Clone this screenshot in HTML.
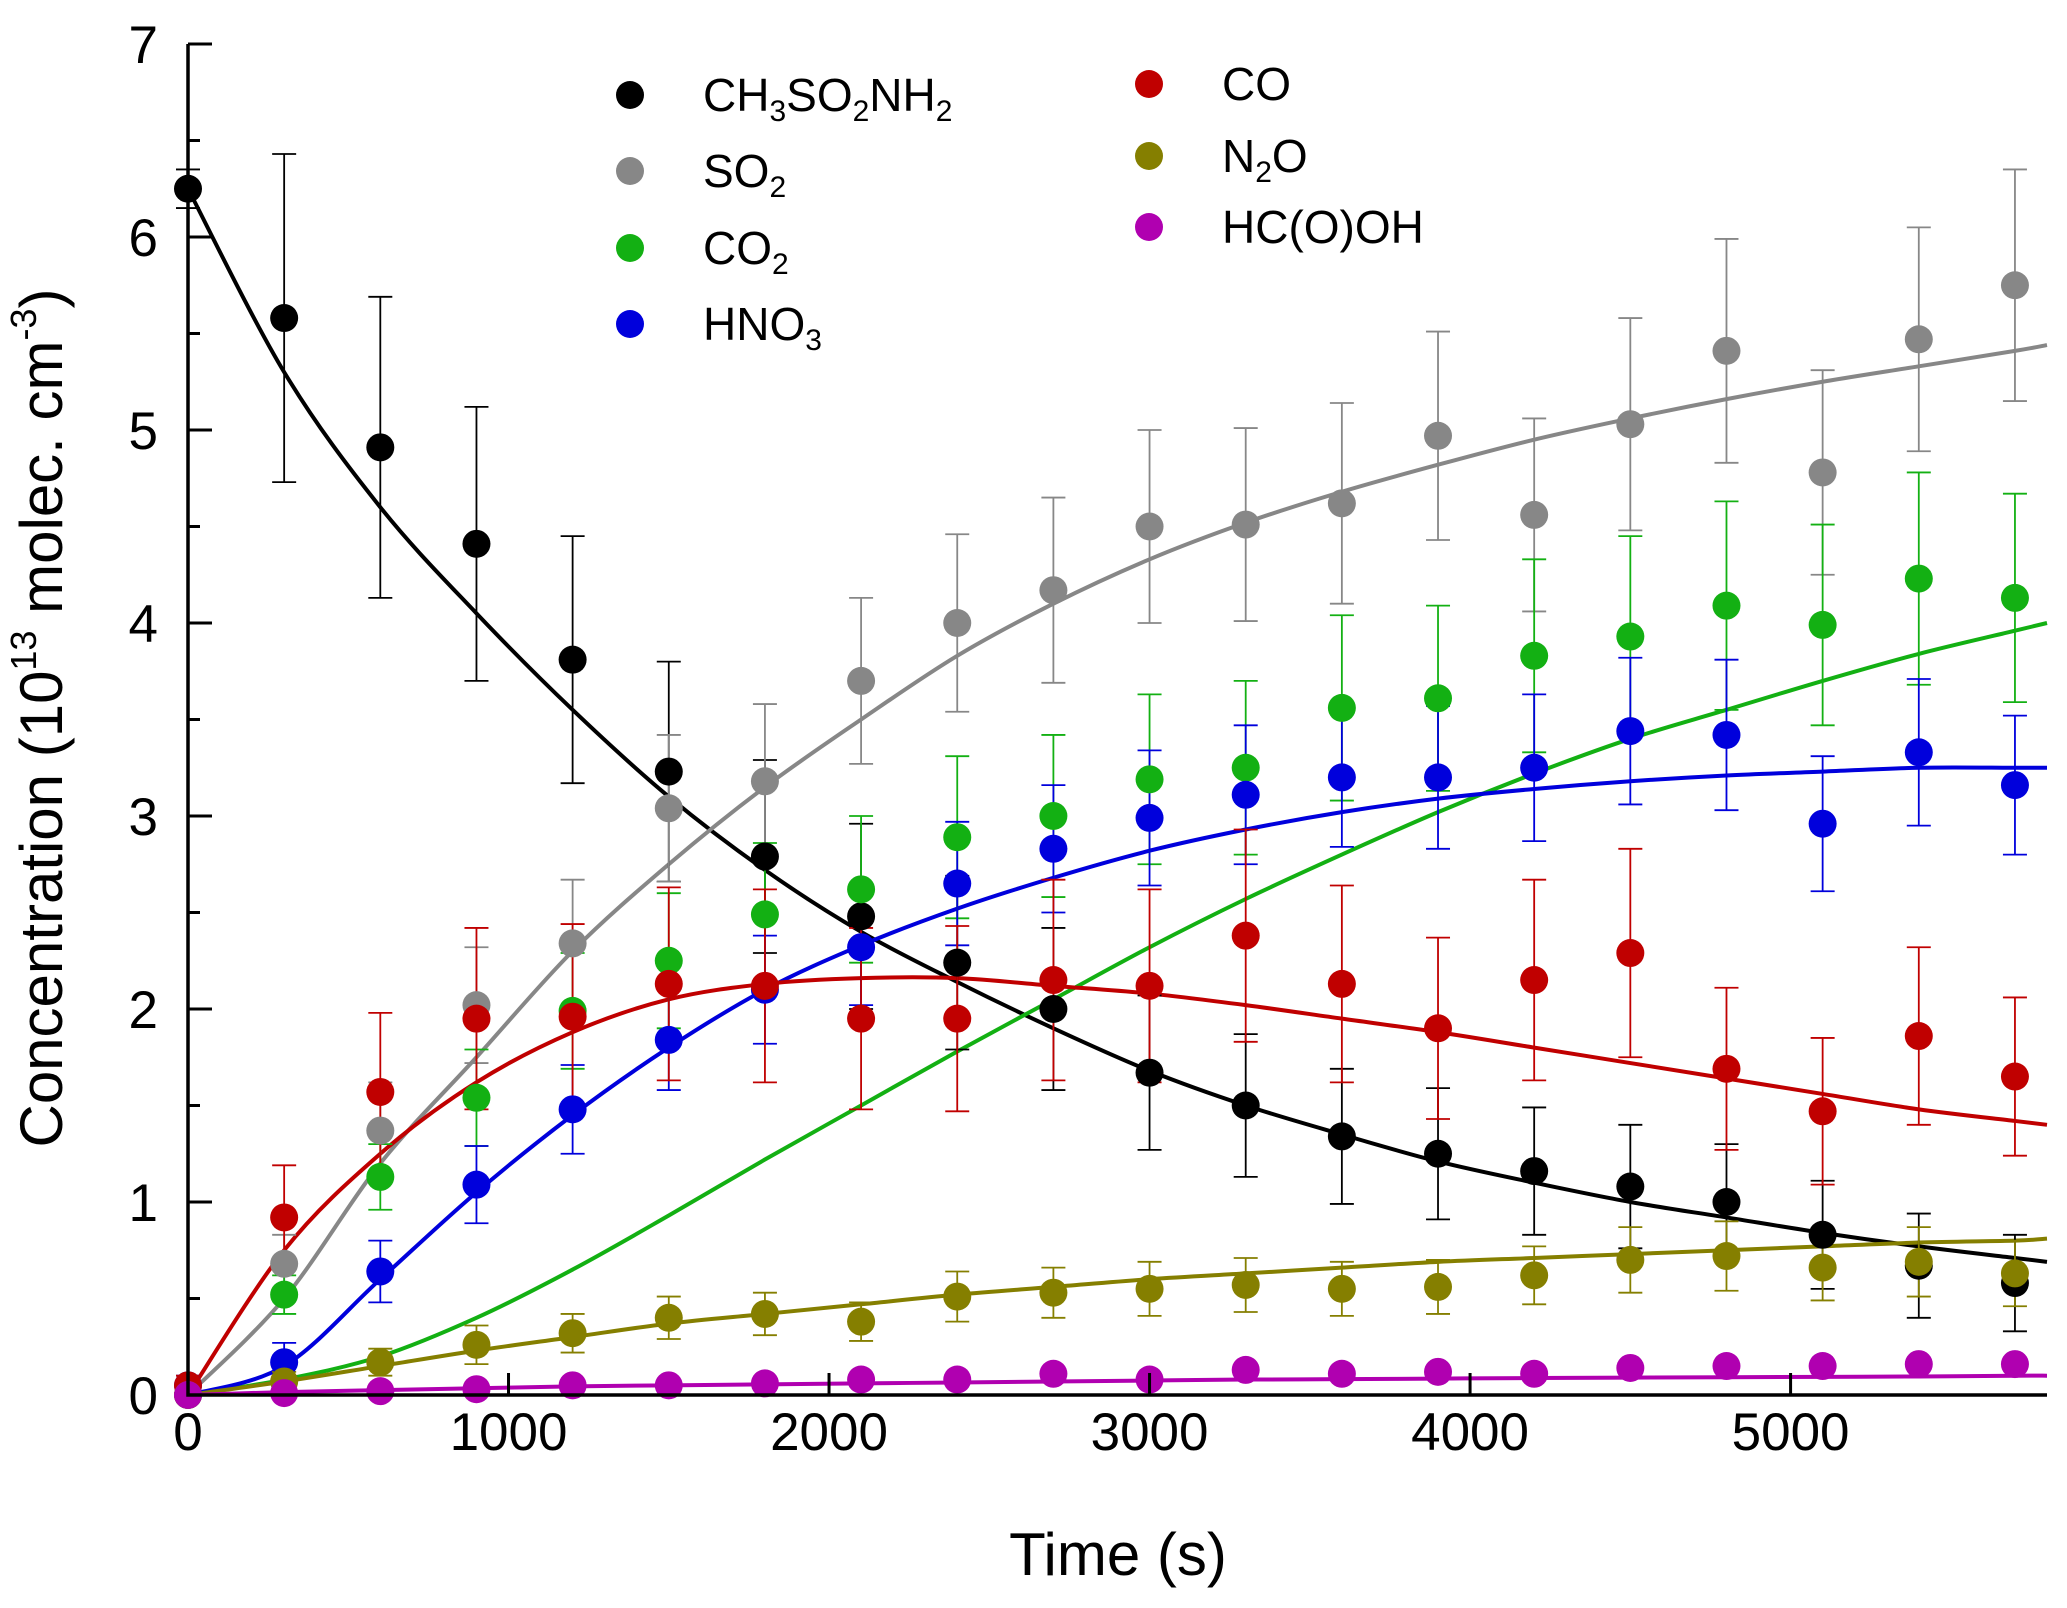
<!DOCTYPE html>
<html><head><meta charset="utf-8"><style>
html,body{margin:0;padding:0;background:#fff}
svg{display:block;font-family:"Liberation Sans",Arial,sans-serif}
</style></head><body>
<svg id="chart" width="2067" height="1608" viewBox="0 0 2067 1608" xmlns="http://www.w3.org/2000/svg">
<g id="curves"></g>
<g id="errs"></g>
<g id="pts"></g>
<g id="axes"></g>
<g id="legend"></g>
<text x="1118" y="1575" font-size="60" text-anchor="middle">Time (s)</text>
<text transform="translate(62,718) rotate(-90)" font-size="60" text-anchor="middle">Concentration (10<tspan font-size="36" dy="-26">13</tspan><tspan dy="26"> molec. cm</tspan><tspan font-size="36" dy="-26">-3</tspan><tspan dy="26">)</tspan></text>
</svg>
<script>
const times=[0,300,600,900,1200,1500,1800,2100,2400,2700,3000,3300,3600,3900,4200,4500,4800,5100,5400,5700];
const curveTimes=[0,300,600,900,1200,1500,1800,2100,2400,2700,3000,3300,3600,3900,4200,4500,4800,5100,5400,5700,5800];
const xTicks=[0,1000,2000,3000,4000,5000];
const yTicks=[0,1,2,3,4,5,6,7];
const seriesNames=["CH3SO2NH2","SO2","CO2","HNO3","CO","N2O","HC(O)OH"];
const seriesColors=["#000000","#878787","#13b013","#0000dc","#c00000","#857f00","#b000b0"];
const valsMSA=[6.25,5.58,4.91,4.41,3.81,3.23,2.79,2.48,2.24,2.00,1.67,1.50,1.34,1.25,1.16,1.08,1.00,0.83,0.67,0.58];
const errMSA=[0.1,0.85,0.78,0.71,0.64,0.57,0.5,0.48,0.45,0.42,0.4,0.37,0.35,0.34,0.33,0.32,0.3,0.28,0.27,0.25];
const valsSO2=[0,0.68,1.37,2.02,2.34,3.04,3.18,3.70,4.00,4.17,4.50,4.51,4.62,4.97,4.56,5.03,5.41,4.78,5.47,5.75];
const errSO2=[0.05,0.15,0.25,0.3,0.33,0.38,0.4,0.43,0.46,0.48,0.5,0.5,0.52,0.54,0.5,0.55,0.58,0.53,0.58,0.6];
const valsCO2=[0,0.52,1.13,1.54,1.99,2.25,2.49,2.62,2.89,3.00,3.19,3.25,3.56,3.61,3.83,3.93,4.09,3.99,4.23,4.13];
const errCO2=[0.05,0.1,0.17,0.25,0.3,0.35,0.37,0.38,0.42,0.42,0.44,0.45,0.48,0.48,0.5,0.52,0.54,0.52,0.55,0.54];
const valsHNO3=[0.05,0.17,0.64,1.09,1.48,1.84,2.10,2.32,2.65,2.83,2.99,3.11,3.20,3.20,3.25,3.44,3.42,2.96,3.33,3.16];
const errHNO3=[0.05,0.1,0.16,0.2,0.23,0.26,0.28,0.3,0.32,0.33,0.35,0.36,0.36,0.37,0.38,0.38,0.39,0.35,0.38,0.36];
const valsCO=[0.05,0.92,1.57,1.95,1.96,2.13,2.12,1.95,1.95,2.15,2.12,2.38,2.13,1.90,2.15,2.29,1.69,1.47,1.86,1.65];
const errCO=[0.05,0.27,0.41,0.47,0.48,0.5,0.5,0.47,0.48,0.52,0.5,0.55,0.51,0.47,0.52,0.54,0.42,0.38,0.46,0.41];
const valsN2O=[0,0.07,0.17,0.26,0.32,0.40,0.42,0.38,0.51,0.53,0.55,0.57,0.55,0.56,0.62,0.70,0.72,0.66,0.69,0.63];
const errN2O=[0.02,0.05,0.07,0.1,0.1,0.11,0.11,0.1,0.13,0.13,0.14,0.14,0.14,0.14,0.15,0.17,0.18,0.17,0.18,0.17];
const valsHCOOH=[0,0.01,0.02,0.03,0.05,0.05,0.06,0.08,0.08,0.11,0.08,0.13,0.11,0.12,0.11,0.14,0.15,0.15,0.16,0.16];
const errHCOOH=[0,0,0,0,0,0,0,0,0,0,0,0,0,0,0,0,0,0,0,0];
const fitMSA=[6.25,5.3,4.6,4.05,3.55,3.1,2.72,2.4,2.14,1.9,1.68,1.5,1.35,1.21,1.1,1.0,0.92,0.84,0.77,0.71,0.69];
const fitSO2=[0,0.5,1.2,1.75,2.3,2.75,3.15,3.5,3.83,4.1,4.33,4.52,4.68,4.82,4.95,5.06,5.16,5.25,5.33,5.41,5.44];
const fitCO2=[0,0.08,0.2,0.4,0.65,0.93,1.22,1.5,1.78,2.05,2.32,2.57,2.8,3.02,3.22,3.4,3.55,3.7,3.84,3.96,4.0];
const fitHNO3=[0,0.15,0.6,1.05,1.45,1.8,2.1,2.33,2.52,2.68,2.82,2.93,3.02,3.09,3.14,3.18,3.21,3.23,3.25,3.25,3.25];
const fitCO=[0,0.75,1.25,1.62,1.88,2.05,2.13,2.16,2.16,2.12,2.08,2.02,1.95,1.88,1.8,1.72,1.64,1.56,1.48,1.42,1.40];
const fitN2O=[0,0.07,0.15,0.23,0.3,0.37,0.42,0.47,0.52,0.56,0.6,0.63,0.66,0.69,0.71,0.73,0.75,0.77,0.79,0.8,0.81];
const fitHCOOH=[0,0.015,0.025,0.035,0.045,0.05,0.055,0.06,0.065,0.07,0.075,0.08,0.082,0.085,0.088,0.09,0.092,0.094,0.096,0.1,0.1];

const NS="http://www.w3.org/2000/svg";
const X0=188,X1=2047,Y0=1395,Y7=44,XMAX=5800,YMAX=7;
function sx(t){return X0+(X1-X0)*t/XMAX;}
function sy(v){return Y0-(Y0-Y7)*v/YMAX;}
function mk(tag,parent){const e=document.createElementNS(NS,tag);parent.appendChild(e);return e;}

const vals=[valsMSA,valsSO2,valsCO2,valsHNO3,valsCO,valsN2O,valsHCOOH];
const errs=[errMSA,errSO2,errCO2,errHNO3,errCO,errN2O,errHCOOH];
const fits=[fitMSA,fitSO2,fitCO2,fitHNO3,fitCO,fitN2O,fitHCOOH];
const gC=document.getElementById('curves'),gE=document.getElementById('errs'),gP=document.getElementById('pts'),gA=document.getElementById('axes'),gL=document.getElementById('legend');

fits.forEach((f,s)=>{
  const P=curveTimes.map((t,i)=>[sx(t),sy(f[i])]);
  let d='M'+P[0][0]+','+P[0][1];
  for(let i=0;i<P.length-1;i++){
    const p0=P[Math.max(0,i-1)],p1=P[i],p2=P[i+1],p3=P[Math.min(P.length-1,i+2)];
    const c1=[p1[0]+(p2[0]-p0[0])/6,p1[1]+(p2[1]-p0[1])/6],c2=[p2[0]-(p3[0]-p1[0])/6,p2[1]-(p3[1]-p1[1])/6];
    d+=' C'+c1[0]+','+c1[1]+' '+c2[0]+','+c2[1]+' '+p2[0]+','+p2[1];
  }
  const path=mk('path',gC);
  
  
  path.setAttribute('d',d);path.setAttribute('fill','none');path.setAttribute('stroke',seriesColors[s]);path.setAttribute('stroke-width','4');
});

vals.forEach((v,s)=>{
  times.forEach((t,i)=>{
    const e=errs[s][i];
    if(e>0.03){
      const x=sx(t),ya=sy(v[i]+e),yb=sy(Math.max(0,v[i]-e));
      const g=mk('path',gE);
      
      
      g.setAttribute('d',`M${x},${ya}V${yb}M${x-12},${ya}H${x+12}M${x-12},${yb}H${x+12}`);
      g.setAttribute('stroke',seriesColors[s]);g.setAttribute('stroke-width','1.8');g.setAttribute('fill','none');
    }
    const c=mk('circle',gP);
    
    
    c.setAttribute('cx',sx(t));c.setAttribute('cy',sy(v[i]));c.setAttribute('r','14');c.setAttribute('fill',seriesColors[s]);
  });
});

const ax=mk('path',gA);


ax.setAttribute('d',`M${X0},${Y7}V${Y0}H${X1}`);ax.setAttribute('stroke','#000');ax.setAttribute('stroke-width','3.5');ax.setAttribute('fill','none');
yTicks.forEach(v=>{
  const l=mk('path',gA);
  
  
  l.setAttribute('d',`M${X0},${sy(v)}H${X0+24}`+(v<7?`M${X0},${sy(v+0.5)}H${X0+12}`:''));l.setAttribute('stroke','#000');l.setAttribute('stroke-width','3');
  const tx=mk('text',gA);
  
  
  tx.setAttribute('x',158);tx.setAttribute('y',sy(v)+19);tx.setAttribute('font-size','53');tx.setAttribute('text-anchor','end');tx.textContent=v;
});
xTicks.forEach(t=>{
  const l=mk('path',gA);
  
  
  l.setAttribute('d',`M${sx(t)},${Y0}V${Y0-22}`);l.setAttribute('stroke','#000');l.setAttribute('stroke-width','3');
  const tx=mk('text',gA);
  
  
  tx.setAttribute('x',sx(t));tx.setAttribute('y',1450);tx.setAttribute('font-size','53');tx.setAttribute('text-anchor','middle');tx.textContent=t;
});

const legendItems=[
 [0,630,95,'CH<tspan dy="10" font-size="30">3</tspan><tspan dy="-10">SO</tspan><tspan dy="10" font-size="30">2</tspan><tspan dy="-10">NH</tspan><tspan dy="10" font-size="30">2</tspan>'],
 [1,630,171,'SO<tspan dy="10" font-size="30">2</tspan>'],
 [2,630,248,'CO<tspan dy="10" font-size="30">2</tspan>'],
 [3,630,324,'HNO<tspan dy="10" font-size="30">3</tspan>'],
 [4,1149,84,'CO'],
 [5,1149,156,'N<tspan dy="10" font-size="30">2</tspan><tspan dy="-10">O</tspan>'],
 [6,1149,227,'HC(O)OH']];
legendItems.forEach(([s,x,y,h])=>{
  const c=mk('circle',gL);
  
  
  c.setAttribute('cx',x);c.setAttribute('cy',y);c.setAttribute('r','14');c.setAttribute('fill',seriesColors[s]);
  const tx=mk('text',gL);
  
  
  tx.setAttribute('x',x+73);tx.setAttribute('y',y+16);tx.setAttribute('font-size','46');tx.innerHTML=h;
});
</script>
</body></html>
